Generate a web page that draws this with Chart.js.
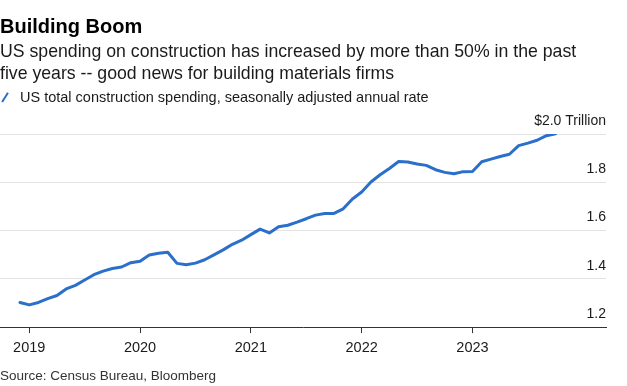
<!DOCTYPE html>
<html lang="en">
<head>
  <meta charset="UTF-8" />
  <title>Building Boom</title>
  <script src="https://cdn.jsdelivr.net/npm/chart.js"></script>
  <style>
    body {
      margin: 0;
      width: 627px;
      height: 386px;
      background: #fff;
      font-family: "Liberation Sans", Arial, sans-serif;
      overflow: hidden;
      position: relative;
    }

    #chart {
      position: absolute;
      left: 0;
      top: 0;
    }

    .txt {
      position: absolute;
      left: 0;
      white-space: nowrap;
    }

    #title {
      top: 16px;
      font-size: 20px;
      line-height: 1;
      font-weight: bold;
      color: #000;
    }

    #subtitle {
      top: 41px;
      font-size: 17.7px;
      line-height: 21.7px;
      color: #1a1a1a;
    }

    #legend {
      top: 90px;
      left: 20px;
      font-size: 14.5px;
      line-height: 1;
      color: #1a1a1a;
    }

    #legend-icon {
      position: absolute;
      left: 4px;
      top: 92px;
      width: 2.4px;
      height: 11px;
      background: #2a6fca;
      transform: rotate(32deg);
    }

    #source {
      top: 369px;
      font-size: 13.5px;
      line-height: 1;
      color: #333;
    }
  </style>
</head>
<body>
  <canvas id="chart" width="627" height="386"></canvas>
  <div class="txt" id="title">Building Boom</div>
  <div class="txt" id="subtitle">US spending on construction has increased by more than 50% in the past<br>five years -- good news for building materials firms</div>
  <div id="legend-icon"></div>
  <div class="txt" id="legend">US total construction spending, seasonally adjusted annual rate</div>
  <div class="txt" id="source">Source: Census Bureau, Bloomberg</div>
  <script>
    // monthly, $ trillion (SAAR)
    const months = [
      '2018-12',
      '2019-01', '2019-02', '2019-03', '2019-04', '2019-05', '2019-06',
      '2019-07', '2019-08', '2019-09', '2019-10', '2019-11', '2019-12',
      '2020-01', '2020-02', '2020-03', '2020-04', '2020-05', '2020-06',
      '2020-07', '2020-08', '2020-09', '2020-10', '2020-11', '2020-12',
      '2021-01', '2021-02', '2021-03', '2021-04', '2021-05', '2021-06',
      '2021-07', '2021-08', '2021-09', '2021-10', '2021-11', '2021-12',
      '2022-01', '2022-02', '2022-03', '2022-04', '2022-05', '2022-06',
      '2022-07', '2022-08', '2022-09', '2022-10', '2022-11', '2022-12',
      '2023-01', '2023-02', '2023-03', '2023-04', '2023-05', '2023-06',
      '2023-07', '2023-08', '2023-09', '2023-10'
    ];

    const spending = [
      1.302,
      1.292, 1.302, 1.318, 1.331, 1.358, 1.373, 1.395, 1.417, 1.432, 1.443, 1.449, 1.467,
      1.473, 1.499, 1.506, 1.510, 1.464, 1.458, 1.465, 1.479, 1.499, 1.520, 1.543, 1.560,
      1.583, 1.606, 1.590, 1.616, 1.622, 1.635, 1.649, 1.664, 1.671, 1.671, 1.690, 1.731,
      1.760, 1.801, 1.831, 1.857, 1.886, 1.884, 1.876, 1.870, 1.852, 1.841, 1.835, 1.844,
      1.845, 1.885, 1.896, 1.907, 1.916, 1.952, 1.962, 1.974, 1.993, 2.001
    ];

    const yearTicks = [2019, 2020, 2021, 2022, 2023];
    const valueTicks = [1.2, 1.4, 1.6, 1.8, 2.0];

    // month string -> fractional year for the linear x axis
    function toYear(m) {
      const [y, mo] = m.split('-').map(Number);
      return y + (mo - 1) / 12;
    }

    const points = months.map((m, i) => ({ x: toYear(m), y: spending[i] }));

    new Chart(document.getElementById('chart').getContext('2d'), {
      type: 'line',
      data: {
        datasets: [{
          data: points,
          borderColor: '#2a6fca',
          borderWidth: 3,
          borderJoinStyle: 'round',
          borderCapStyle: 'round',
          pointRadius: 0,
          tension: 0,
          fill: false
        }]
      },
      options: {
        responsive: false,
        devicePixelRatio: 1,
        animation: false,
        layout: { padding: { top: 134, right: 21, bottom: 23.5, left: 0 } },
        plugins: {
          legend: { display: false },
          tooltip: { enabled: false }
        },
        scales: {
          x: {
            type: 'linear',
            min: 2018.736,
            max: 2024.205,
            afterBuildTicks: axis => { axis.ticks = yearTicks.map(v => ({ value: v })); },
            grid: {
              drawOnChartArea: false,
              drawTicks: true,
              tickLength: 6,
              tickColor: '#333'
            },
            border: { display: true, color: '#333', width: 1 },
            ticks: {
              padding: 6,
              maxRotation: 0,
              color: '#1a1a1a',
              font: { family: '"Liberation Sans", Arial, sans-serif', size: 14.5 },
              callback: v => String(v)
            }
          },
          y: {
            position: 'right',
            min: 1.2,
            max: 2.0,
            afterBuildTicks: axis => { axis.ticks = valueTicks.map(v => ({ value: v })); },
            grid: { color: '#e3e3e3', drawTicks: false, lineWidth: 1 },
            border: { display: false },
            ticks: {
              mirror: true,
              padding: 0,
              labelOffset: -13,
              color: '#1a1a1a',
              font: { family: '"Liberation Sans", Arial, sans-serif', size: 14 },
              callback: v => (v === 2.0 ? '$2.0 Trillion' : v.toFixed(1))
            }
          }
        }
      }
    });
  </script>
</body>
</html>
